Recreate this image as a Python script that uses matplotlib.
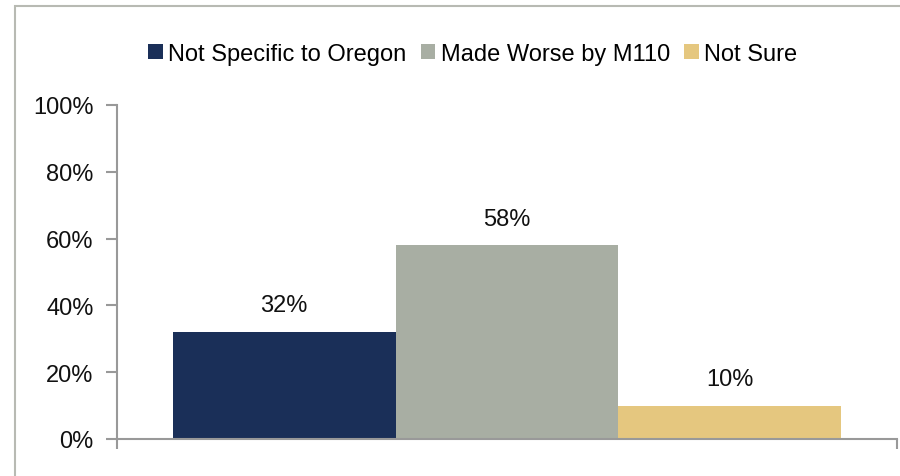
import matplotlib.pyplot as plt
import numpy as np
from matplotlib.patches import Rectangle
from matplotlib.ticker import FuncFormatter

plt.rcParams['font.family'] = ['Liberation Sans', 'DejaVu Sans']

categories = ['Not Specific to Oregon', 'Made Worse by M110', 'Not Sure']
values = [32, 58, 10]
colors = ['#1a2f58', '#a8aea3', '#e5c77f']
y_ticks = [0, 20, 40, 60, 80, 100]

fig = plt.figure(figsize=(9, 4.77), dpi=100)
# outer chart border (runs off the right and bottom edges)
fig.patches.append(Rectangle((15 / 900, -0.1), 1.2, (477 - 7) / 477 + 0.1,
                             transform=fig.transFigure, fill=False,
                             edgecolor='#b8bab3', linewidth=1.5))

ax = fig.add_axes([117 / 900, (477 - 440) / 477, (897 - 117) / 900, (440 - 106) / 477])

x = np.arange(len(categories)) - 1
for xi, v, c, lab in zip(x, values, colors, categories):
    ax.bar(xi, v, width=1.0, color=c, label=lab, zorder=2)
    ax.text(xi, v + 8, f'{v}%', ha='center', va='center', fontsize=17, color='#111111')

ax.set_xlim(-1.75, 1.75)
ax.set_ylim(0, 100)
ax.set_yticks(y_ticks)
ax.yaxis.set_major_formatter(FuncFormatter(lambda v, p: f'{v:.0f}%'))
ax.tick_params(axis='y', labelsize=17, length=8, width=1.5, color='#999999', pad=9,
               labelcolor='#111111')
ax.set_xticks([-1.75, 1.75])
ax.set_xticklabels([])
ax.tick_params(axis='x', length=7, width=1.5, color='#999999', direction='out')

for s in ['top', 'right']:
    ax.spines[s].set_visible(False)
for s in ['left', 'bottom']:
    ax.spines[s].set_color('#999999')
    ax.spines[s].set_linewidth(1.5)

fig.legend(loc='center', bbox_to_anchor=(473 / 900, 1 - 55 / 477), ncol=3, frameon=False,
           fontsize=17, handlelength=0.6, handleheight=0.6, handletextpad=0.25,
           columnspacing=0.6)

fig.savefig('out.png', dpi=100)
